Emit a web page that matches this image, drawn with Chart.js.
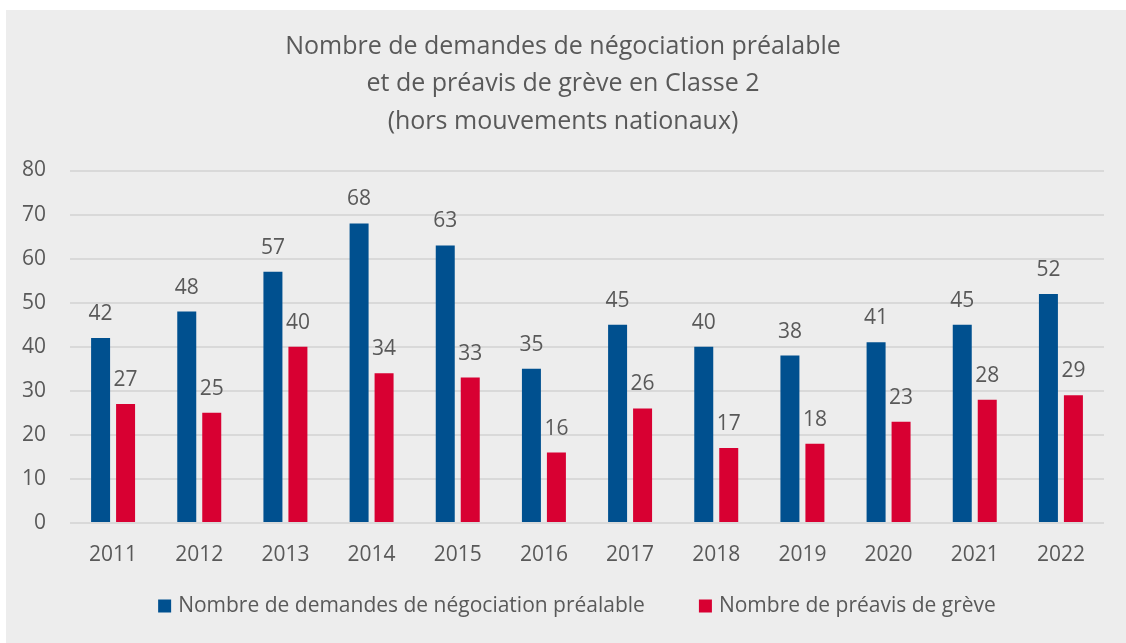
<!DOCTYPE html>
<html><head><meta charset="utf-8">
<script src="https://cdn.jsdelivr.net/npm/chart.js@4"></script>
<style>
html,body{margin:0;padding:0;background:#fff;}
#wrap{position:absolute;left:6px;top:10px;width:1120px;height:633px;background:#ededed;}
</style></head><body>
<div id="wrap"><canvas id="c" width="1120" height="633"></canvas></div>
<script>
const titleLines = ["Nombre de demandes de négociation préalable","et de préavis de grève en Classe 2","(hors mouvements nationaux)"];
const years = ["2011","2012","2013","2014","2015","2016","2017","2018","2019","2020","2021","2022"];
const seriesNames = ["Nombre de demandes de négociation préalable","Nombre de préavis de grève"];
const demandes = [42,48,57,68,63,35,45,40,38,41,45,52];
const preavis = [27,25,40,34,33,16,26,17,18,23,28,29];

const FONT = "'Open Sans', 'Noto Sans', sans-serif";
const TXT = '#595959';

const labelPlugin = {
  id:'barLabels',
  afterDatasetsDraw(chart){
    const ctx = chart.ctx;
    ctx.save();
    ctx.font = '21px ' + FONT;
    ctx.fillStyle = TXT;
    ctx.textAlign = 'center';
    ctx.textBaseline = 'alphabetic';
    chart.data.datasets.forEach((ds,i)=>{
      chart.getDatasetMeta(i).data.forEach((bar,j)=>{
        ctx.fillText(String(ds.data[j]), bar.x, bar.y - 18);
      });
    });
    ctx.restore();
  }
};

// legend drawn below the axis, from the datasets
const legendPlugin = {
  id:'customLegend',
  afterDraw(chart){
    const ctx = chart.ctx;
    ctx.save();
    ctx.font = '21px ' + FONT;
    ctx.textBaseline = 'middle';
    ctx.textAlign = 'left';
    const box = 13, gapText = 7, gapItem = 54;
    const items = chart.data.datasets.map(ds=>({text:ds.label,color:ds.backgroundColor,w:ctx.measureText(ds.label).width}));
    let total = 0;
    items.forEach((it,i)=>{ total += box + gapText + it.w + (i? gapItem:0); });
    let x = chart.width/2 - total/2 + 11;
    const y = 596;
    items.forEach(it=>{
      ctx.fillStyle = it.color;
      ctx.fillRect(x, y - box/2, box, box);
      x += box + gapText;
      ctx.fillStyle = TXT;
      ctx.fillText(it.text, x, y);
      x += it.w + gapItem;
    });
    ctx.restore();
  }
};

new Chart(document.getElementById('c'),{
  type:'bar',
  data:{labels:years,datasets:[
    {label:seriesNames[0],data:demandes,backgroundColor:'#00508f',categoryPercentage:0.58,barPercentage:0.76},
    {label:seriesNames[1],data:preavis,backgroundColor:'#d80032',categoryPercentage:0.58,barPercentage:0.76}
  ]},
  options:{
    responsive:false,animation:false,
    layout:{padding:{left:16,right:22,top:0,bottom:78}},
    plugins:{
      title:{display:true,text:titleLines,color:TXT,font:{family:FONT,size:25,weight:'normal',lineHeight:1.5},padding:{top:18,bottom:30}},
      legend:{display:false},
      tooltip:{enabled:false}
    },
    scales:{
      x:{grid:{display:false,drawTicks:false},border:{display:false},ticks:{color:TXT,font:{family:FONT,size:21},padding:19},
         afterFit(s){ s.height = 42; }},
      y:{min:0,max:80,ticks:{stepSize:10,color:TXT,font:{family:FONT,size:21},padding:24},grid:{color:'#d9d9d9',lineWidth:2,drawTicks:false},border:{display:false},
         afterFit(s){ s.width = 48; }}
    }
  },
  plugins:[labelPlugin,legendPlugin]
});
</script></body></html>
